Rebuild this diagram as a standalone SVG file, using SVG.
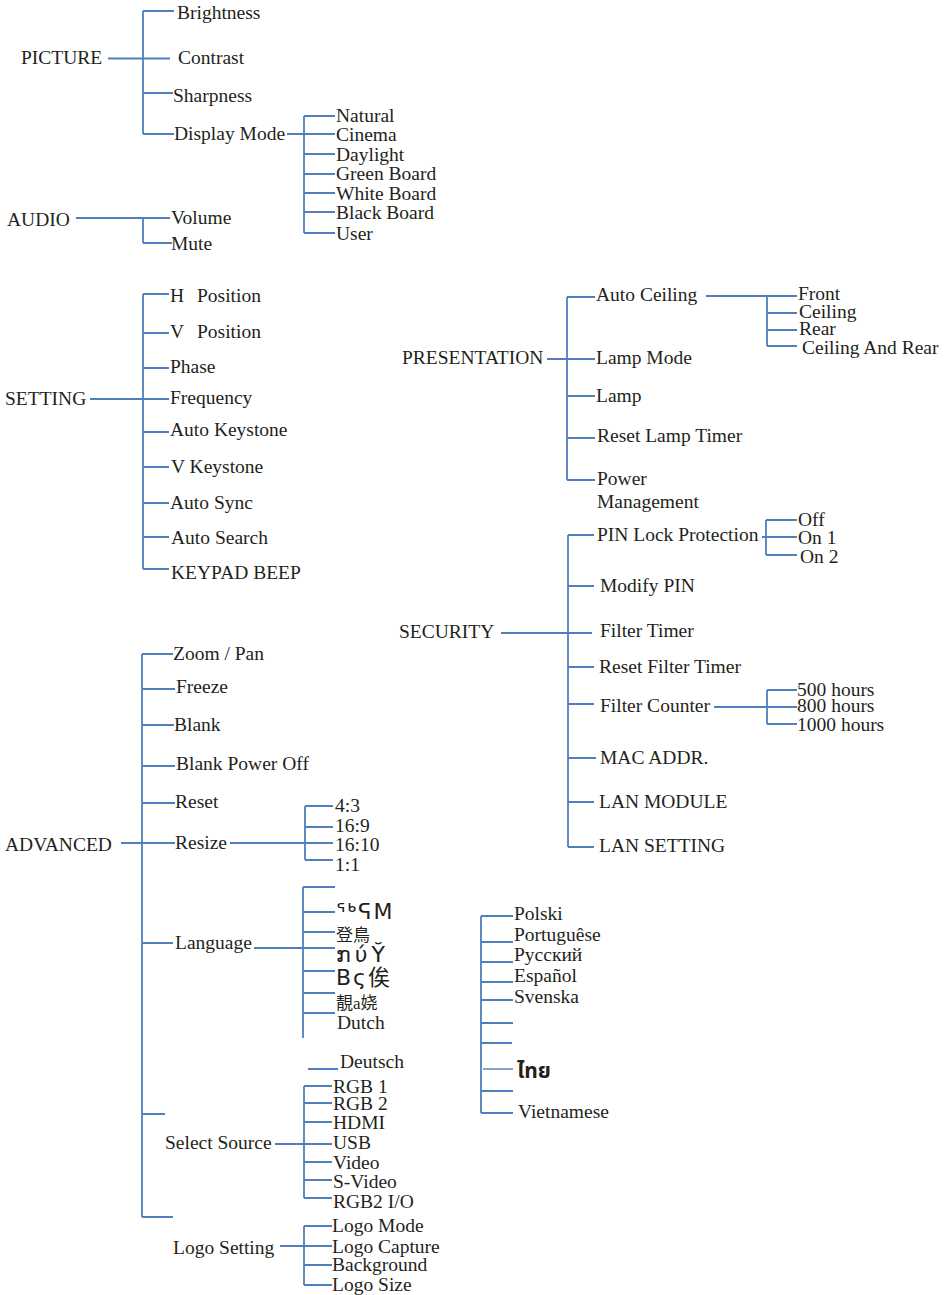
<svg xmlns="http://www.w3.org/2000/svg" width="952" height="1295" viewBox="0 0 952 1295">
<style>
text{font-family:"Liberation Serif","Noto Sans CJK SC",serif;font-size:19.5px;fill:#231f20}
.c{fill:none;stroke:#4f7fbf;stroke-width:1.8}
.thin{fill:none;stroke:#4f7fbf;stroke-width:1.4}
.sx{font-family:"DejaVu Sans","Liberation Serif",serif;font-size:22px;letter-spacing:2px}
.th{font-family:"Noto Sans Thai","Loma","Garuda","DejaVu Sans",sans-serif;font-weight:bold;font-size:21px}
</style>
<rect width="952" height="1295" fill="#fff"/>
<g id="connectors">
<path class="c" d="M108 58.5H143M143 11V134M143 11H174M143 58.5H170M143 93H173M143 134H174
M287 134H304M304 116V233M304 116H335M304 134H335M304 154H335M304 174H335M304 193H335M304 212H335M304 233H335
M76 218H143M143 218V243M143 218H170M143 243H172
M90 399H143M143 294V569M143 294H169M143 333H169M143 368H169M143 399H169M143 432H169M143 467H169M143 503H169M143 537H169M143 569H169
M547 359H567M567 297V480M567 297H595M567 359H595M567 396H595M567 438H595M567 480H595
M706 296H797M767 296V346M767 313H797M767 330H797M767 346H797
M501 633H592M568 535V847M568 535H594M568 586H594M568 667H594M568 704H594M568 758H596M568 802H594M568 847H594
M762 537H797M766 520V555M766 520H797M766 555H797
M714 707H797M767 690V724M767 690H797M767 724H797
M121 843H142M142 654V1217M142 654H173M142 689H175M142 725H174M142 766H175M142 803H175M142 843H175M142 943H173M142 1114H165M142 1217H173
M230 843H305M305 806V860M305 806H333M305 827H333M305 843H333M305 860H333
M254 948H303M303 887V1038M303 887H335M303 912H335M303 932H335M303 948H335M303 971H335M303 993H335M303 1013H335
M308 1069H338
M275 1144H304M304 1086V1198M304 1086H332M304 1103H332M304 1122H332M304 1144H332M304 1162H332M304 1180H332M304 1198H332
M280 1246H304M304 1226V1285M304 1226H332M304 1246H332M304 1265H332M304 1285H332
M481 916V1113M481 916H513M481 942H513M481 962H513M481 982H513M481 1000H513M481 1023H513M481 1043H512M481 1091H513M481 1113H513"/>
<path class="thin" d="M483 1069H513"/>
</g>
<g id="picture"><text x="21" y="64">PICTURE</text></g>
<g id="brightness"><text x="177" y="19">Brightness</text></g>
<g id="contrast"><text x="178" y="64">Contrast</text></g>
<g id="sharpness"><text x="173" y="102">Sharpness</text></g>
<g id="display-mode"><text x="174" y="140">Display Mode</text></g>
<g id="natural"><text x="336" y="122">Natural</text></g>
<g id="cinema"><text x="336" y="141">Cinema</text></g>
<g id="daylight"><text x="336" y="161">Daylight</text></g>
<g id="green-board"><text x="336" y="180">Green Board</text></g>
<g id="white-board"><text x="336" y="200">White Board</text></g>
<g id="black-board"><text x="336" y="219">Black Board</text></g>
<g id="user"><text x="336" y="240">User</text></g>
<g id="audio"><text x="7" y="226">AUDIO</text></g>
<g id="volume"><text x="171" y="224">Volume</text></g>
<g id="mute"><text x="171" y="250">Mute</text></g>
<g id="setting"><text x="5" y="405">SETTING</text></g>
<g id="h-position"><text x="170" y="302">H<tspan x="197">Position</tspan></text></g>
<g id="v-position"><text x="170" y="338">V<tspan x="197">Position</tspan></text></g>
<g id="phase"><text x="170" y="373">Phase</text></g>
<g id="frequency"><text x="170" y="404">Frequency</text></g>
<g id="auto-keystone"><text x="170" y="436">Auto Keystone</text></g>
<g id="v-keystone"><text x="171" y="473">V Keystone</text></g>
<g id="auto-sync"><text x="170" y="509">Auto Sync</text></g>
<g id="auto-search"><text x="171" y="544">Auto Search</text></g>
<g id="keypad-beep"><text x="171" y="579">KEYPAD BEEP</text></g>
<g id="presentation"><text x="402" y="364">PRESENTATION</text></g>
<g id="auto-ceiling"><text x="596" y="301">Auto Ceiling</text></g>
<g id="lamp-mode"><text x="596" y="364">Lamp Mode</text></g>
<g id="lamp"><text x="596" y="402">Lamp</text></g>
<g id="reset-lamp-timer"><text x="597" y="442">Reset Lamp Timer</text></g>
<g id="power-management"><text x="597" y="485">Power</text><text x="597" y="508">Management</text></g>
<g id="front"><text x="798" y="300">Front</text></g>
<g id="ceiling"><text x="799" y="318">Ceiling</text></g>
<g id="rear"><text x="799" y="335">Rear</text></g>
<g id="ceiling-and-rear"><text x="802" y="354">Ceiling And Rear</text></g>
<g id="security"><text x="399" y="638">SECURITY</text></g>
<g id="pin-lock"><text x="597" y="541">PIN Lock Protection</text></g>
<g id="modify-pin"><text x="600" y="592">Modify PIN</text></g>
<g id="filter-timer"><text x="600" y="637">Filter Timer</text></g>
<g id="reset-filter-timer"><text x="599" y="673">Reset Filter Timer</text></g>
<g id="filter-counter"><text x="600" y="712">Filter Counter</text></g>
<g id="mac-addr"><text x="600" y="764">MAC ADDR.</text></g>
<g id="lan-module"><text x="599" y="808">LAN MODULE</text></g>
<g id="lan-setting"><text x="599" y="852">LAN SETTING</text></g>
<g id="off"><text x="798" y="526">Off</text></g>
<g id="on1"><text x="798" y="544">On 1</text></g>
<g id="on2"><text x="800" y="563">On 2</text></g>
<g id="h500"><text x="797" y="696">500 hours</text></g>
<g id="h800"><text x="797" y="712">800 hours</text></g>
<g id="h1000"><text x="797" y="731">1000 hours</text></g>
<g id="advanced"><text x="5" y="851">ADVANCED</text></g>
<g id="zoom-pan"><text x="173" y="660">Zoom / Pan</text></g>
<g id="freeze"><text x="176" y="693">Freeze</text></g>
<g id="blank"><text x="174" y="731">Blank</text></g>
<g id="blank-power-off"><text x="176" y="770">Blank Power Off</text></g>
<g id="reset"><text x="175" y="808">Reset</text></g>
<g id="resize"><text x="175" y="849">Resize</text></g>
<g id="r43"><text x="335" y="812">4:3</text></g>
<g id="r169"><text x="335" y="832">16:9</text></g>
<g id="r1610"><text x="335" y="851">16:10</text></g>
<g id="r11"><text x="335" y="871">1:1</text></g>
<g id="language"><text x="175" y="949">Language</text></g>
<g id="lang1"><text class="sx" x="336" y="919">ᕐᒃᕋM</text></g>
<g id="lang2"><text x="336" y="941" style="font-family:'Noto Sans CJK SC',sans-serif;font-size:17px">登鳥</text></g>
<g id="lang3"><text class="sx" x="336" y="962" style="letter-spacing:4px">ກύY̆</text></g>
<g id="lang4"><text class="sx" x="336" y="985">Bς<tspan style="font-family:'Noto Sans CJK SC',sans-serif">俟</tspan></text></g>
<g id="lang5"><text x="336" y="1009" style="font-family:'Noto Sans CJK SC',serif;font-size:17px">靚<tspan style="font-family:'Liberation Serif',serif">a</tspan>娆</text></g>
<g id="dutch"><text x="337" y="1029">Dutch</text></g>
<g id="deutsch"><text x="340" y="1068">Deutsch</text></g>
<g id="select-source"><text x="165" y="1149">Select Source</text></g>
<g id="rgb1"><text x="333" y="1093">RGB 1</text></g>
<g id="rgb2"><text x="333" y="1110">RGB 2</text></g>
<g id="hdmi"><text x="333" y="1129">HDMI</text></g>
<g id="usb"><text x="333" y="1149">USB</text></g>
<g id="video"><text x="333" y="1169">Video</text></g>
<g id="s-video"><text x="333" y="1188">S-Video</text></g>
<g id="rgb2io"><text x="333" y="1208">RGB2 I/O</text></g>
<g id="logo-setting"><text x="173" y="1254">Logo Setting</text></g>
<g id="logo-mode"><text x="332" y="1232">Logo Mode</text></g>
<g id="logo-capture"><text x="332" y="1253">Logo Capture</text></g>
<g id="background"><text x="332" y="1271">Background</text></g>
<g id="logo-size"><text x="332" y="1291">Logo Size</text></g>
<g id="polski"><text x="514" y="920">Polski</text></g>
<g id="portuguese"><text x="514" y="941">Portuguêse</text></g>
<g id="russian"><text x="514" y="961">Русский</text></g>
<g id="espanol"><text x="514" y="982">Español</text></g>
<g id="svenska"><text x="514" y="1003">Svenska</text></g>
<g id="thai"><text class="th" x="517" y="1078">ไทย</text></g>
<g id="vietnamese"><text x="518" y="1118">Vietnamese</text></g>
</svg>
